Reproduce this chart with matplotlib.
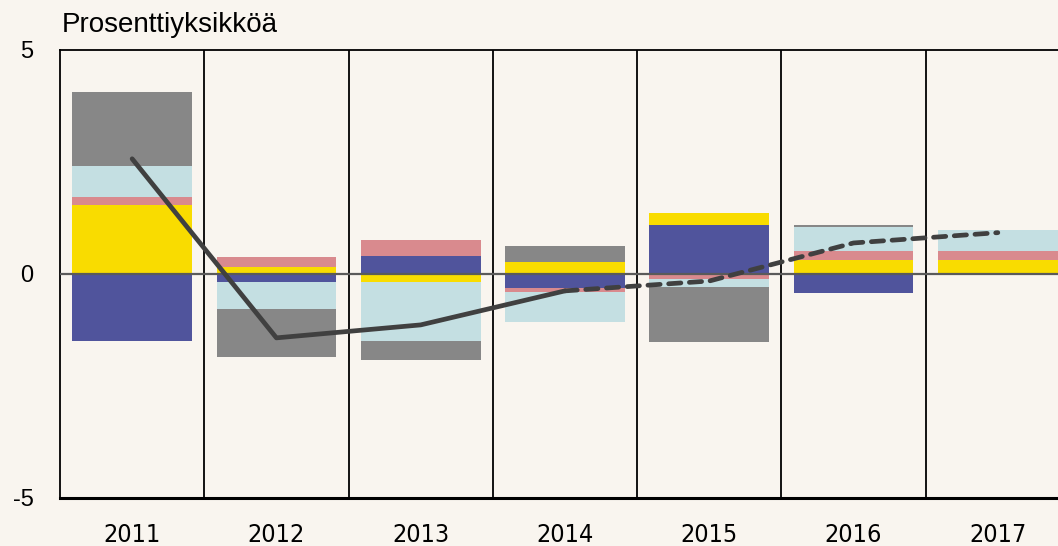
import matplotlib.pyplot as plt
import numpy as np

# Contributions by component, percentage points
years = ['2011', '2012', '2013', '2014', '2015', '2016', '2017']
blue = [-1.51, -0.18, 0.40, -0.32, 1.09, -0.43, -0.02]
yellow = [1.54, 0.16, -0.18, 0.27, 0.28, 0.31, 0.32]
pink = [0.17, 0.22, 0.36, -0.08, -0.11, 0.19, 0.19]
lightblue = [0.71, -0.60, -1.33, -0.67, -0.19, 0.54, 0.46]
gray = [1.64, -1.07, -0.42, 0.36, -1.22, 0.06, 0.0]
total = [2.57, -1.43, -1.14, -0.38, -0.16, 0.69, 0.92]

series = [blue, yellow, pink, lightblue, gray]
colors = ['#50549c', '#f9dc00', '#d98a8e', '#c4dfe2', '#878787']

bg = '#f9f5ef'
fig = plt.figure(figsize=(10.58, 5.46), dpi=100, facecolor=bg)
ax = fig.add_axes([60 / 1058, 1 - 497.7 / 546, 1 - 60 / 1058, 447.7 / 546])
ax.set_facecolor(bg)

x = np.arange(len(years))
pos = np.zeros(len(years))
neg = np.zeros(len(years))
for vals, c in zip(series, colors):
    v = np.array(vals)
    bottom = np.where(v >= 0, pos, neg)
    ax.bar(x, v, bottom=bottom, width=0.83, color=c, linewidth=0, zorder=2)
    pos = pos + np.where(v >= 0, v, 0)
    neg = neg + np.where(v < 0, v, 0)

ax.axhline(0, color='#5a5a5a', linewidth=1.6, zorder=3)

# category separators
for b in x[:-1] + 0.5:
    ax.axvline(b, color='black', linewidth=1.3, zorder=1)

ax.plot(x[:4], total[:4], color='#404040', linewidth=3.4,
        solid_capstyle='round', solid_joinstyle='round', zorder=4)
ax.plot(x[3:], total[3:], color='#404040', linewidth=3.4, dashes=(2.6, 1.8),
        dash_capstyle='round', zorder=4)

ax.set_xlim(-0.5, 6.417)
ax.set_ylim(-5, 5)
ax.set_yticks([-5, 0, 5])
ax.set_yticklabels(['-5', '0', '5'], fontsize=17, family='Liberation Sans')
ax.set_xticks(x)
ax.set_xticklabels(years, fontsize=18, family='DejaVu Sans', fontstretch='condensed')
ax.tick_params(axis='y', length=0, pad=19)
ax.tick_params(axis='x', length=0, pad=18)

for s in ['left', 'top']:
    ax.spines[s].set_linewidth(1.3)
ax.spines['bottom'].set_linewidth(2.2)
ax.spines['right'].set_visible(False)

fig.text(62 / 1058, 1 - 32 / 546, 'Prosenttiyksikköä', fontsize=20,
         family='Liberation Sans', ha='left', va='baseline')

fig.savefig('out.png', dpi=100, facecolor=bg)
